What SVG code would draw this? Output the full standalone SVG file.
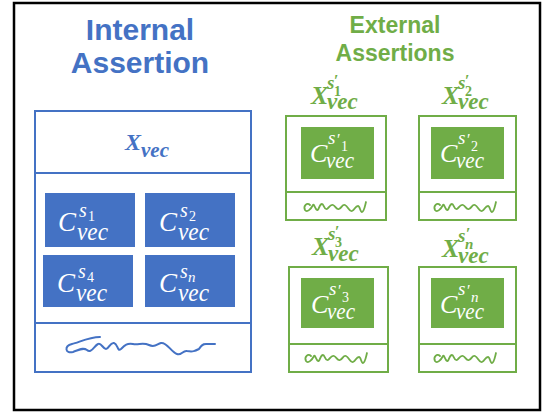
<svg xmlns="http://www.w3.org/2000/svg" xmlns:xlink="http://www.w3.org/1999/xlink" width="544" height="414" viewBox="0 0 544 414">
<style>
.frame{fill:#fff;stroke:#000;stroke-width:2.5}
.ibox{fill:#fff;stroke:#4472C4;stroke-width:2}
.iline{stroke:#4472C4;stroke-width:2}
.brect{fill:#4472C4}
.gbox{fill:#fff;stroke:#70AD47;stroke-width:2}
.gline{stroke:#70AD47;stroke-width:2}
.grect{fill:#70AD47}
.title{font-family:"Liberation Sans",Arial,sans-serif;font-weight:bold;text-anchor:middle}
.m{font-family:"Liberation Serif","Times New Roman",serif;font-style:italic}
.r{font-style:normal}
.wt{fill:#fff}
.bt{fill:#4472C4}
.gt{fill:#70AD47}
.bold{font-weight:bold}
.scrib-b{fill:none;stroke:#4472C4;stroke-width:2;stroke-linecap:round;stroke-linejoin:round}
.scrib-g{fill:none;stroke:#70AD47;stroke-width:1.8;stroke-linecap:round;stroke-linejoin:round}
</style>
<defs>
<path id="gs" d="M6,-2 C3,-5 -1,-1 1,3 C3,6 7,2 9,-2 C10,-4 11,2 13,3 C15,4 15,-3 18,-3 C20,-3 20,3 23,2 C25,1 26,-3 29,-2 C32,-1 32,3 35,2 C38,1 38,-3 41,-2 C44,-1 45,5 48,4 C51,3 51,-1 54,-1 C56,-1 56,5 58,5 C60,5 61,-1 62,-5"/>
</defs>
<rect class="frame" x="14" y="3" width="526" height="407"/>

<g id="internal-title">
<text class="title bt" x="140" y="40" font-size="30">Internal</text>
<text class="title bt" x="140" y="73" font-size="30">Assertion</text>
</g>

<g id="internal-assertion">
<rect class="ibox" x="35" y="111" width="216" height="261"/>
<line class="iline" x1="35" y1="173" x2="252" y2="173"/>
<line class="iline" x1="35" y1="323" x2="251" y2="323"/>
<text class="m bt bold" font-size="24"><tspan x="125" y="150">X</tspan><tspan x="141" y="157" font-size="21">vec</tspan></text>
<path class="scrib-b" d="M100,337 C88,337 78,343 72,344 C64,346 65,354 73,352 C79,350 83,347 87,350 C91,354 94,346 98,344 C101,342 103,349 106,349 C109,349 110,342 114,343 C118,344 117,352 121,349 C125,345 127,343 133,344 C139,345 143,342 149,345 C155,348 157,344 161,343 C167,342 171,352 177,354 C181,356 183,350 187,351 C193,352 195,351 199,349 C201,346 202,344 206,344 L215,344"/>
</g>

<g id="c-s1">
<rect class="brect" x="45" y="193" width="90" height="54"/>
<text class="m wt" font-size="27"><tspan x="58" y="231">C</tspan><tspan x="79" y="217" font-size="20">s</tspan><tspan x="88" y="221" font-size="14" class="r">1</tspan><tspan x="77" y="240" font-size="26" textLength="31" lengthAdjust="spacingAndGlyphs">vec</tspan></text>
</g>
<g id="c-s2">
<rect class="brect" x="145" y="193" width="90" height="54"/>
<text class="m wt" font-size="27"><tspan x="159" y="231">C</tspan><tspan x="180" y="217" font-size="20">s</tspan><tspan x="189" y="221" font-size="14" class="r">2</tspan><tspan x="178" y="240" font-size="26" textLength="31" lengthAdjust="spacingAndGlyphs">vec</tspan></text>
</g>
<g id="c-s4">
<rect class="brect" x="43" y="255" width="90" height="52"/>
<text class="m wt" font-size="27"><tspan x="57" y="292">C</tspan><tspan x="78" y="278" font-size="20">s</tspan><tspan x="87" y="282" font-size="14" class="r">4</tspan><tspan x="76" y="301" font-size="26" textLength="31" lengthAdjust="spacingAndGlyphs">vec</tspan></text>
</g>
<g id="c-sn">
<rect class="brect" x="145" y="255" width="90" height="52"/>
<text class="m wt" font-size="27"><tspan x="159" y="292">C</tspan><tspan x="180" y="278" font-size="20">s</tspan><tspan x="188" y="282" font-size="15">n</tspan><tspan x="178" y="301" font-size="26" textLength="31" lengthAdjust="spacingAndGlyphs">vec</tspan></text>
</g>

<g id="external-title">
<text class="title gt" x="395" y="33" font-size="23">External</text>
<text class="title gt" x="395" y="61" font-size="23">Assertions</text>
</g>

<g id="ext-1">
<text class="m gt bold" font-size="26"><tspan x="311" y="104">X</tspan><tspan x="327" y="89" font-size="19">s</tspan><tspan x="334" y="86" font-size="16" class="r">′</tspan><tspan x="334" y="96" font-size="14" class="r">1</tspan><tspan x="327" y="109" font-size="23">vec</tspan></text>
<rect class="gbox" x="286" y="116" width="100" height="104"/>
<line class="gline" x1="286" y1="192" x2="386" y2="192"/>
<rect class="grect" x="301" y="127" width="73" height="52"/>
<text class="m wt" font-size="26"><tspan x="310" y="162">C</tspan><tspan x="328" y="144" font-size="19">s</tspan><tspan x="337" y="145" font-size="16" class="r">′</tspan><tspan x="341" y="151" font-size="14" class="r">1</tspan><tspan x="326" y="168" font-size="23" textLength="28" lengthAdjust="spacingAndGlyphs">vec</tspan></text>
<use href="#gs" xlink:href="#gs" class="scrib-g" x="304" y="207"/>
</g>

<g id="ext-2">
<text class="m gt bold" font-size="26"><tspan x="442" y="104">X</tspan><tspan x="458" y="89" font-size="19">s</tspan><tspan x="465" y="86" font-size="16" class="r">′</tspan><tspan x="465" y="96" font-size="14" class="r">2</tspan><tspan x="458" y="109" font-size="23">vec</tspan></text>
<rect class="gbox" x="419" y="116" width="97" height="104"/>
<line class="gline" x1="419" y1="192" x2="516" y2="192"/>
<rect class="grect" x="431" y="127" width="73" height="52"/>
<text class="m wt" font-size="26"><tspan x="440" y="162">C</tspan><tspan x="458" y="144" font-size="19">s</tspan><tspan x="467" y="145" font-size="16" class="r">′</tspan><tspan x="471" y="151" font-size="14" class="r">2</tspan><tspan x="456" y="168" font-size="23" textLength="28" lengthAdjust="spacingAndGlyphs">vec</tspan></text>
<use href="#gs" xlink:href="#gs" class="scrib-g" x="434" y="207"/>
</g>

<g id="ext-3">
<text class="m gt bold" font-size="26"><tspan x="312" y="255">X</tspan><tspan x="328" y="240" font-size="19">s</tspan><tspan x="335" y="237" font-size="16" class="r">′</tspan><tspan x="335" y="247" font-size="14" class="r">3</tspan><tspan x="328" y="261" font-size="23">vec</tspan></text>
<rect class="gbox" x="289" y="267" width="99" height="105"/>
<line class="gline" x1="289" y1="344" x2="388" y2="344"/>
<rect class="grect" x="301" y="278" width="73" height="50"/>
<text class="m wt" font-size="26"><tspan x="311" y="313">C</tspan><tspan x="329" y="295" font-size="19">s</tspan><tspan x="338" y="296" font-size="16" class="r">′</tspan><tspan x="342" y="302" font-size="14" class="r">3</tspan><tspan x="327" y="319" font-size="23" textLength="28" lengthAdjust="spacingAndGlyphs">vec</tspan></text>
<use href="#gs" xlink:href="#gs" class="scrib-g" x="305" y="358"/>
</g>

<g id="ext-n">
<text class="m gt bold" font-size="26"><tspan x="442" y="257">X</tspan><tspan x="458" y="242" font-size="19">s</tspan><tspan x="466" y="239" font-size="16" class="r">′</tspan><tspan x="465" y="249" font-size="15">n</tspan><tspan x="458" y="263" font-size="23">vec</tspan></text>
<rect class="gbox" x="419" y="267" width="97" height="105"/>
<line class="gline" x1="419" y1="344" x2="516" y2="344"/>
<rect class="grect" x="431" y="278" width="73" height="50"/>
<text class="m wt" font-size="26"><tspan x="440" y="313">C</tspan><tspan x="458" y="295" font-size="19">s</tspan><tspan x="467" y="296" font-size="16" class="r">′</tspan><tspan x="471" y="302" font-size="15">n</tspan><tspan x="456" y="319" font-size="23" textLength="28" lengthAdjust="spacingAndGlyphs">vec</tspan></text>
<use href="#gs" xlink:href="#gs" class="scrib-g" x="434" y="358"/>
</g>

<g id="connectors"></g>
</svg>
